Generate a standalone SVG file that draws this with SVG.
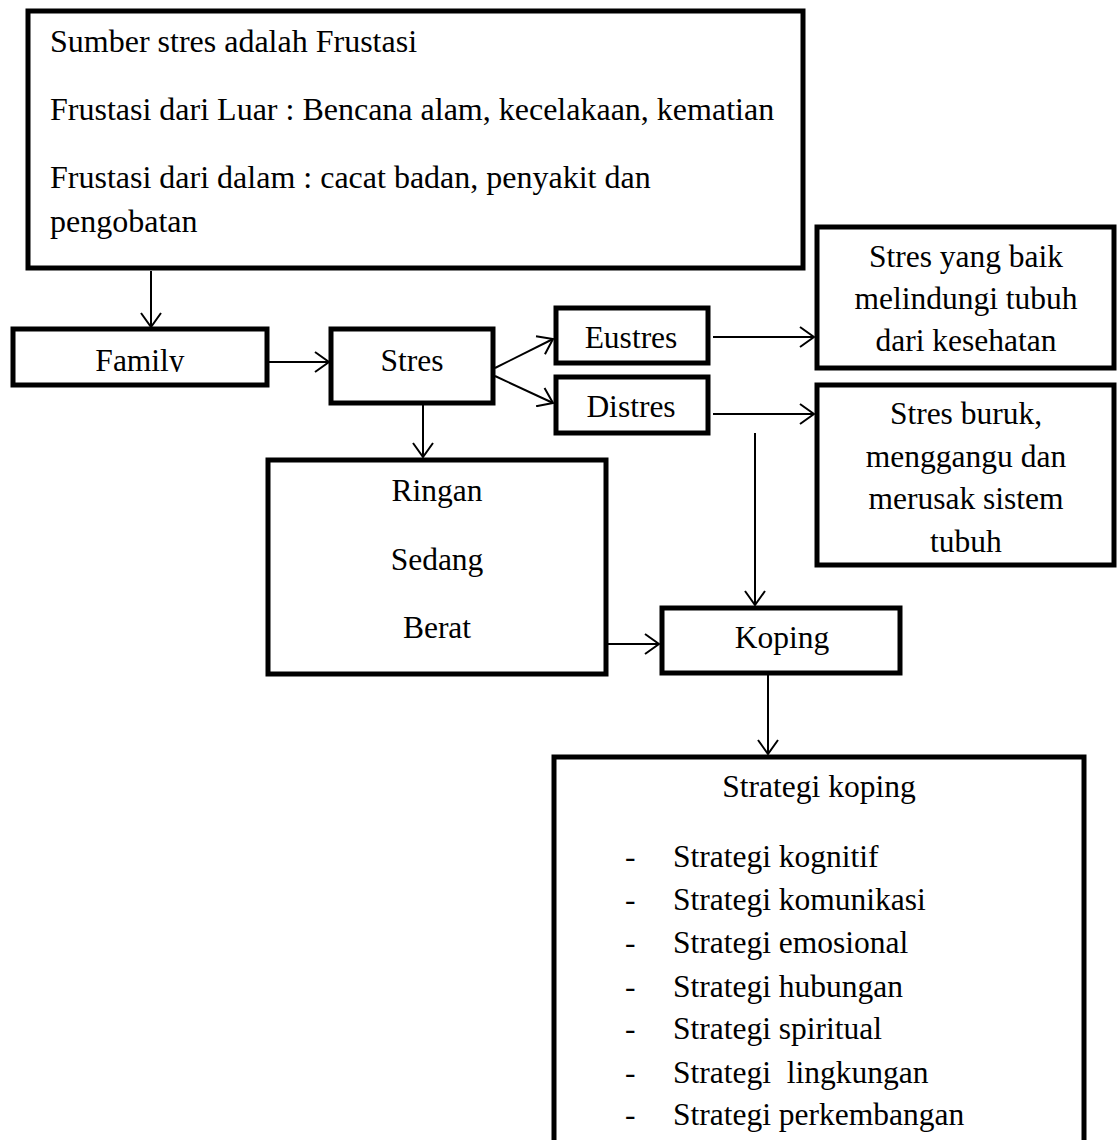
<svg xmlns="http://www.w3.org/2000/svg" width="1120" height="1140" viewBox="0 0 1120 1140">
<style>
.box{fill:#fff;stroke:#000;stroke-width:5}
.t{font-family:"Liberation Serif","Times New Roman",serif;font-size:31.5px;fill:#000}
.big{font-size:32px}
.c{text-anchor:middle}
.con{stroke:#000;stroke-width:2;fill:none}
</style>
<defs>
<marker id="ah" viewBox="0 0 16 22" refX="15" refY="11" markerWidth="16" markerHeight="22" markerUnits="userSpaceOnUse" orient="auto">
<path d="M1,1 L15,11 L1,21" fill="none" stroke="#000" stroke-width="2"/>
</marker>
<clipPath id="famclip"><rect x="0" y="300" width="300" height="72"/></clipPath>
</defs>
<rect width="1120" height="1140" fill="#fff"/>
<g id="connectors">
<line class="con" x1="151" y1="271" x2="151" y2="327" marker-end="url(#ah)"/>
<line class="con" x1="267" y1="362" x2="329" y2="362" marker-end="url(#ah)"/>
<line class="con" x1="495" y1="368" x2="553" y2="339" marker-end="url(#ah)"/>
<line class="con" x1="495" y1="376" x2="553" y2="403" marker-end="url(#ah)"/>
<line class="con" x1="713" y1="337" x2="814" y2="337" marker-end="url(#ah)"/>
<line class="con" x1="713" y1="414" x2="814" y2="414" marker-end="url(#ah)"/>
<line class="con" x1="423" y1="403" x2="423" y2="457" marker-end="url(#ah)"/>
<line class="con" x1="755" y1="433" x2="755" y2="605" marker-end="url(#ah)"/>
<line class="con" x1="606" y1="644" x2="659" y2="644" marker-end="url(#ah)"/>
<line class="con" x1="768" y1="673" x2="768" y2="754" marker-end="url(#ah)"/>
</g>
<g id="sumber">
<rect class="box" x="28" y="11" width="775" height="257"/>
<text class="t big" x="50" y="52">Sumber stres adalah Frustasi</text>
<text class="t big" x="50" y="120">Frustasi dari Luar : Bencana alam, kecelakaan, kematian</text>
<text class="t big" x="50" y="188">Frustasi dari dalam : cacat badan, penyakit dan</text>
<text class="t big" x="50" y="232">pengobatan</text>
</g>
<g id="family">
<rect class="box" x="13" y="329" width="254" height="56"/>
<text class="t c" x="140" y="371" clip-path="url(#famclip)">Family</text>
</g>
<g id="stres">
<rect class="box" x="331" y="329" width="162" height="74"/>
<text class="t c" x="412" y="371">Stres</text>
</g>
<g id="eustres">
<rect class="box" x="556" y="308" width="152" height="55"/>
<text class="t c" x="631" y="348">Eustres</text>
</g>
<g id="distres">
<rect class="box" x="556" y="377" width="152" height="56"/>
<text class="t c" x="631" y="417">Distres</text>
</g>
<g id="baik">
<rect class="box" x="817" y="227" width="297" height="141"/>
<text class="t c" x="966" y="267">Stres yang baik</text>
<text class="t c" x="966" y="309">melindungi tubuh</text>
<text class="t c" x="966" y="351">dari kesehatan</text>
</g>
<g id="buruk">
<rect class="box" x="817" y="385" width="297" height="180"/>
<text class="t c" x="966" y="424">Stres buruk,</text>
<text class="t c" x="966" y="467">menggangu dan</text>
<text class="t c" x="966" y="509">merusak sistem</text>
<text class="t c" x="966" y="552">tubuh</text>
</g>
<g id="tingkat">
<rect class="box" x="268" y="460" width="338" height="214"/>
<text class="t c" x="437" y="501">Ringan</text>
<text class="t c" x="437" y="570">Sedang</text>
<text class="t c" x="437" y="638">Berat</text>
</g>
<g id="koping">
<rect class="box" x="662" y="608" width="238" height="65"/>
<text class="t c" x="782" y="648">Koping</text>
</g>
<g id="strategi">
<rect class="box" x="554" y="757" width="530" height="400"/>
<text class="t c" x="819" y="797">Strategi koping</text>
<text class="t" x="625" y="867">-</text><text class="t" x="673" y="867">Strategi kognitif</text>
<text class="t" x="625" y="910">-</text><text class="t" x="673" y="910">Strategi komunikasi</text>
<text class="t" x="625" y="953">-</text><text class="t" x="673" y="953">Strategi emosional</text>
<text class="t" x="625" y="997">-</text><text class="t" x="673" y="997">Strategi hubungan</text>
<text class="t" x="625" y="1039">-</text><text class="t" x="673" y="1039">Strategi spiritual</text>
<text class="t" x="625" y="1083">-</text><text class="t" x="673" y="1083" xml:space="preserve">Strategi  lingkungan</text>
<text class="t" x="625" y="1125">-</text><text class="t" x="673" y="1125">Strategi perkembangan</text>
</g>
</svg>
